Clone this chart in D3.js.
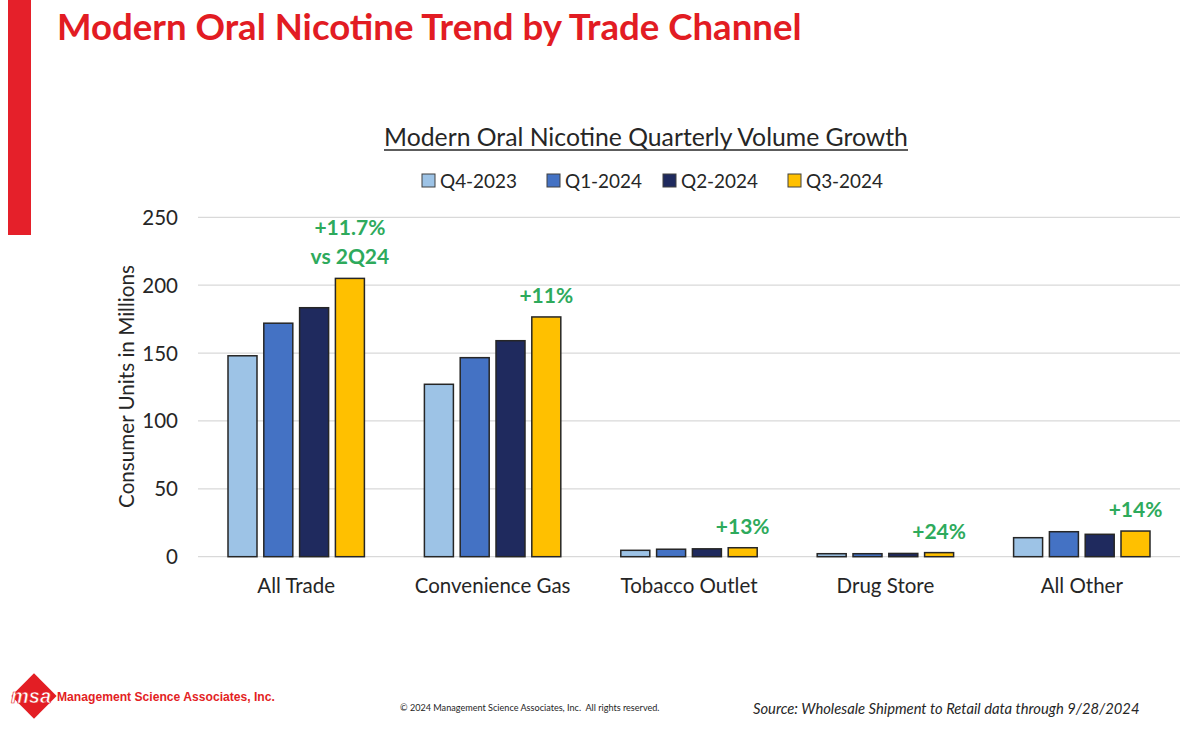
<!DOCTYPE html>
<html>
<head>
<meta charset="utf-8">
<script src="https://cdn.jsdelivr.net/npm/d3@7"></script>
<style>
  html, body { margin: 0; padding: 0; background: #fff; }
  svg { display: block; }
</style>
</head>
<body>
<svg id="chart" width="1200" height="731"></svg>
<script>
// ---------- DATA ----------
const categories = ["All Trade", "Convenience Gas", "Tobacco Outlet", "Drug Store", "All Other"];
const seriesNames = ["Q4-2023", "Q1-2024", "Q2-2024", "Q3-2024"];
const q4_2023 = [148, 127, 4.7, 2.2, 14.0];
const q1_2024 = [172, 146.6, 5.5, 2.2, 18.4];
const q2_2024 = [183.4, 159.1, 5.8, 2.4, 16.5];
const q3_2024 = [205, 176.6, 6.6, 3.0, 18.9];
const growthLabels = [["+11.7%", "vs 2Q24"], ["+11%"], ["+13%"], ["+24%"], ["+14%"]];
const yTicks = [0, 50, 100, 150, 200, 250];

const seriesValues = [q4_2023, q1_2024, q2_2024, q3_2024];
const colors = ["#9DC3E6", "#4472C4", "#1F2A5E", "#FFC000"];

// ---------- SETUP ----------
const svg = d3.select("#chart");
const FONT = "Lato, 'Open Sans', sans-serif";

function fit(sel, target) {
  const node = sel.node();
  const fs = parseFloat(sel.attr("font-size"));
  const w = node.getComputedTextLength();
  if (w > 0) sel.attr("font-size", (fs * target / w).toFixed(2));
  return sel;
}

// left red bar
svg.append("rect").attr("x", 8).attr("y", 0).attr("width", 23).attr("height", 235).attr("fill", "#E5202A");

// main title
fit(svg.append("text")
  .attr("x", 57).attr("y", 40)
  .attr("font-family", FONT).attr("font-weight", 700).attr("font-size", 33)
  .attr("fill", "#E21C23")
  .text("Modern Oral Nicotine Trend by Trade Channel"), 745);

// chart subtitle (underlined)
const sub = svg.append("text")
  .attr("x", 646).attr("y", 146).attr("text-anchor", "middle")
  .attr("font-family", FONT).attr("font-size", 23).attr("fill", "#262626")
  .text("Modern Oral Nicotine Quarterly Volume Growth");
fit(sub, 524);
svg.append("line").attr("x1", 384).attr("x2", 908).attr("y1", 150).attr("y2", 150)
  .attr("stroke", "#262626").attr("stroke-width", 1.5);

// ---------- SCALES ----------
const plotLeft = 198, plotRight = 1180;
const y = d3.scaleLinear().domain([0, 250]).range([556.7, 217.3]);
const x0 = d3.scaleBand().domain(categories).range([plotLeft, plotRight])
  .paddingInner(0.3055).paddingOuter(0.15275);
const x1 = d3.scaleBand().domain(seriesNames).range([0, x0.bandwidth()])
  .paddingInner(0.19).paddingOuter(0);

// gridlines
svg.append("g").selectAll("line").data(yTicks).join("line")
  .attr("x1", plotLeft).attr("x2", plotRight)
  .attr("y1", d => y(d)).attr("y2", d => y(d))
  .attr("stroke", "#D9D9D9").attr("stroke-width", 1.3);

// y axis tick labels
const yAxis = svg.append("g").attr("transform", `translate(${plotLeft},0)`)
  .call(d3.axisLeft(y).tickValues(yTicks).tickSize(0).tickPadding(20));
yAxis.select(".domain").remove();
yAxis.selectAll("text")
  .attr("font-family", FONT).attr("font-size", 20.5).attr("fill", "#262626")
  .attr("dy", "0.34em");

// y axis title
svg.append("text")
  .attr("transform", "translate(134,386.5) rotate(-90)")
  .attr("text-anchor", "middle")
  .attr("font-family", FONT).attr("font-size", 20).attr("fill", "#262626")
  .text("Consumer Units in Millions")
  .call(s => fit(s, 243));

// bars
const groups = svg.append("g").selectAll("g").data(categories).join("g")
  .attr("transform", d => `translate(${x0(d)},0)`);
groups.selectAll("rect")
  .data((c, ci) => seriesNames.map((s, si) => ({ s, si, v: seriesValues[si][ci] })))
  .join("rect")
  .attr("x", d => x1(d.s))
  .attr("width", x1.bandwidth())
  .attr("y", d => y(d.v))
  .attr("height", d => y(0) - y(d.v))
  .attr("fill", d => colors[d.si])
  .attr("stroke", "#262626").attr("stroke-width", 1.5);

// x category labels
const xAxis = svg.append("g").attr("transform", `translate(0,${y(0)})`)
  .call(d3.axisBottom(x0).tickSize(0).tickPadding(22));
xAxis.select(".domain").remove();
xAxis.selectAll("text")
  .attr("font-family", FONT).attr("font-size", 20.5).attr("fill", "#262626");

// growth annotations above Q3 bars
categories.forEach((c, ci) => {
  const cx = x0(c) + x1("Q3-2024") + x1.bandwidth() / 2;
  const top = y(q3_2024[ci]);
  const lines = growthLabels[ci];
  lines.forEach((t, li) => {
    const offset = (lines.length - 1 - li) * 29;
    svg.append("text")
      .attr("x", cx).attr("y", top - 14 - offset)
      .attr("text-anchor", "middle")
      .attr("font-family", FONT).attr("font-weight", 700).attr("font-size", 21)
      .attr("fill", "#2EAA5C")
      .text(t);
  });
});

// legend
const legendX = [422, 547, 663, 788];
const legend = svg.append("g").selectAll("g").data(seriesNames).join("g")
  .attr("transform", (d, i) => `translate(${legendX[i]},174)`);
legend.append("rect").attr("width", 13).attr("height", 13)
  .attr("fill", (d, i) => colors[i]).attr("stroke", "#404040").attr("stroke-width", 1);
legend.append("text").attr("x", 18).attr("y", 13.5)
  .attr("font-family", FONT).attr("font-size", 19).attr("fill", "#262626")
  .text(d => d)
  .each(function () { fit(d3.select(this), 77); });

// ---------- FOOTER ----------
const logo = svg.append("g").attr("transform", "translate(34,696)");
logo.append("rect").attr("x", -16).attr("y", -16).attr("width", 32).attr("height", 32)
  .attr("transform", "rotate(45)").attr("fill", "#E31E24");
logo.append("text").attr("x", -3).attr("y", 6.5).attr("text-anchor", "middle")
  .attr("font-family", "'Liberation Sans', Arial, sans-serif").attr("font-weight", 700)
  .attr("font-style", "italic").attr("font-size", 20).attr("fill", "#fff")
  .attr("stroke", "#E31E24").attr("stroke-width", 0.6)
  .text("msa");

fit(svg.append("text").attr("x", 57).attr("y", 701)
  .attr("font-family", "'Liberation Sans', Arial, sans-serif").attr("font-weight", 700)
  .attr("font-size", 13).attr("fill", "#E31E24")
  .text("Management Science Associates, Inc."), 218);

fit(svg.append("text").attr("x", 400).attr("y", 711)
  .attr("font-family", FONT).attr("font-size", 9).attr("fill", "#262626")
  .attr("xml:space", "preserve")
  .text("© 2024 Management Science Associates, Inc.  All rights reserved."), 260);

fit(svg.append("text").attr("x", 753).attr("y", 714)
  .attr("font-family", FONT).attr("font-style", "italic").attr("font-size", 14)
  .attr("fill", "#262626")
  .text("Source: Wholesale Shipment to Retail data through 9/28/2024"), 387);
</script>
</body>
</html>
